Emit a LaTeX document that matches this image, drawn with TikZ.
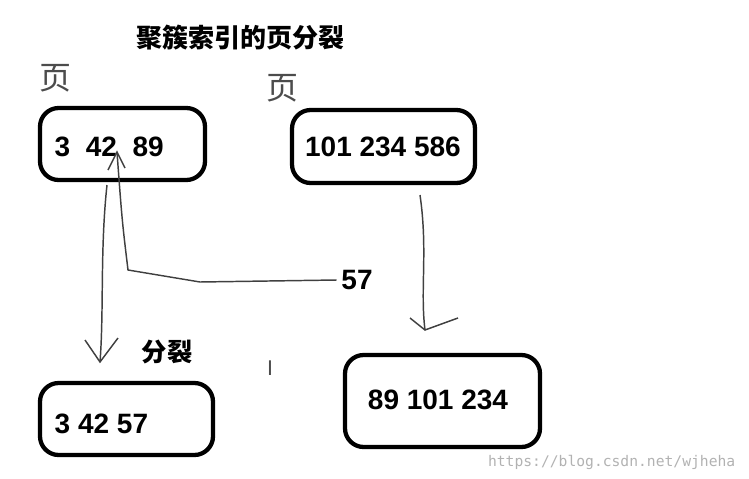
\documentclass[tikz,border=0pt]{standalone}
\usepackage{fontspec}
\setmainfont{Liberation Sans}
\newfontfamily\cjk{Noto Sans CJK SC}
\newfontfamily\monofont{DejaVu Sans Mono}
\usetikzlibrary{arrows.meta}

\tikzset{
    pagebox/.style={draw, line width=3.2pt, rounded corners=14pt, anchor=north west},
    hand/.style={line width=1.1pt, black!75},
    num/.style={font=\bfseries\fontsize{21}{21}\selectfont}
}

\begin{document}
\begin{tikzpicture}[x=0.75pt,y=-0.75pt]
    \useasboundingbox (0,0) rectangle (749,478);
    % Title and labels
    \node[font=\cjk\bfseries\fontsize{19.5}{19.5}\selectfont] (title) at (240,38) {聚簇索引的页分裂};
    \node[font=\cjk\fontsize{24}{24}\selectfont, black!70] (ye1) at (55,78) {页};
    \node[font=\cjk\fontsize{24}{24}\selectfont, black!70] (ye2) at (282,88) {页};

    % Pages
    \draw[pagebox] (40,108) rectangle (205,180);
    \node[num, anchor=west] (p1) at (50,147) {3\ \ 42\ \ 89};
    \draw[pagebox] (292,110) rectangle (475,183);
    \node[num] (p2) at (383,147) {101 234 586};
    \draw[pagebox] (40,383) rectangle (213,455);
    \node[num, anchor=west] (p3) at (50,424) {3 42 57};
    \draw[pagebox] (345,355) rectangle (540,447);
    \node[num] (p4) at (438,400) {89 101 234};

    \node[font=\cjk\bfseries\fontsize{19}{19}\selectfont] (split) at (167,352) {分裂};
    \node[num] (new) at (357,280) {57};
    \node[font=\fontsize{16}{16}\selectfont, black!70] (cursor) at (270,368) {I};

    % Hand-drawn arrows
    \coordinate (a1) at (420,195);
    \coordinate (a2) at (425,330);
    \draw[hand] (a1) .. controls (428,250) and (420,290) .. (a2);
    \draw[hand] (410,318) -- (a2) -- (458,318);
    \coordinate (b1) at (107,185);
    \coordinate (b2) at (100,362);
    \draw[hand] (b1) .. controls (100,250) and (104,310) .. (b2);
    \draw[hand] (85,340) -- (b2) -- (118,338);
    \coordinate (c1) at (128,270);
    \coordinate (c2) at (117,152);
    \draw[hand] (new.west) -- (200,282) -- (c1) .. controls (122,220) .. (c2);
    \draw[hand] (108,170) -- (c2) -- (125,168);

    % Watermark
    \node[font=\monofont\fontsize{11}{11}\selectfont, gray!60, anchor=east] (mark) at (740,462) {https://blog.csdn.net/wjheha};
\end{tikzpicture}
\end{document}
